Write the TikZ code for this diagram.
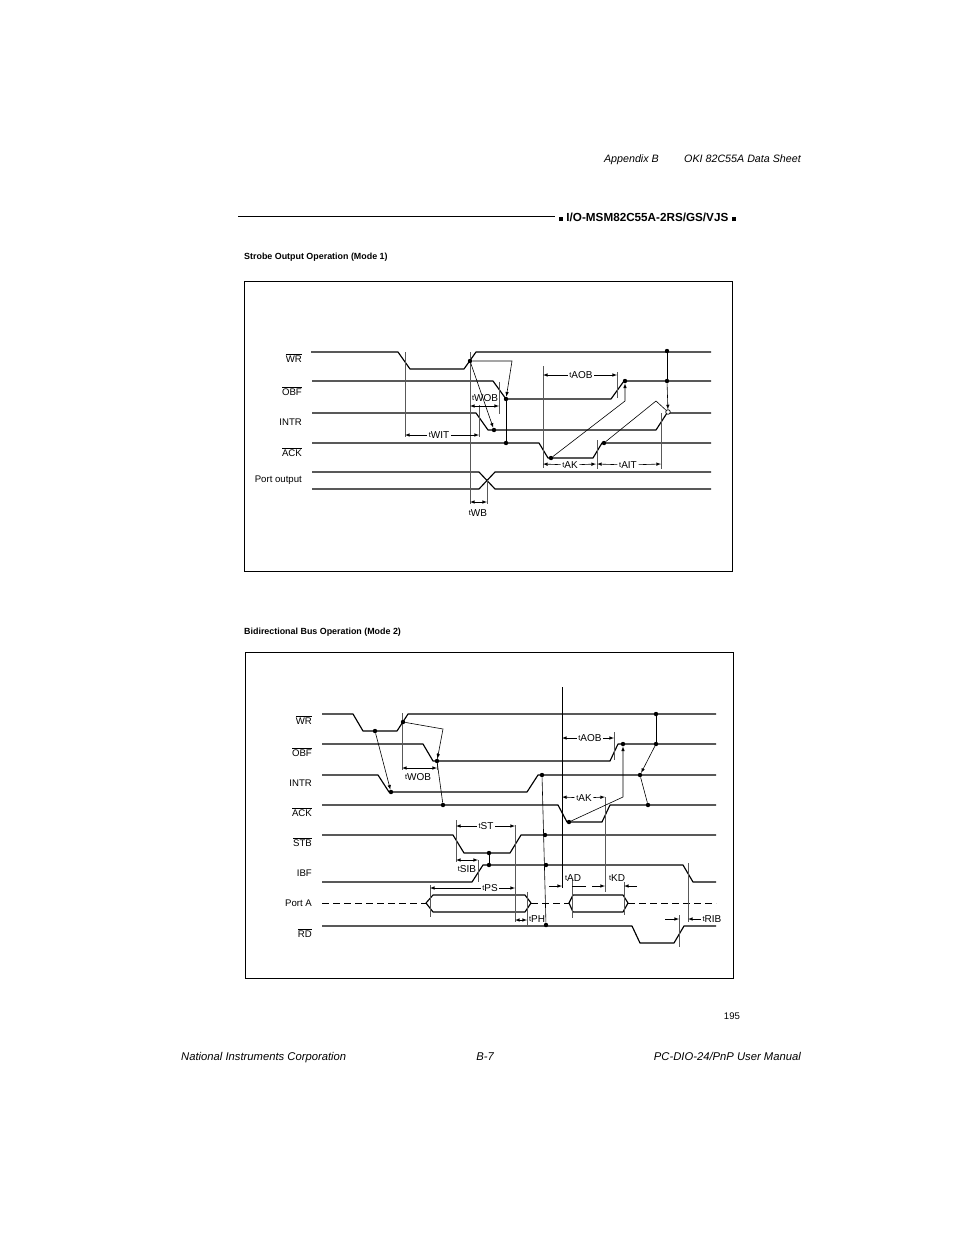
\documentclass[tikz,border=0pt]{standalone}
\usepackage{fontspec}
\setmainfont{Liberation Sans}
\usetikzlibrary{arrows, arrows.meta}
\tikzset{
    wave/.style={line width=1.15pt, line join=round},
    guide/.style={line width=0.55pt, gray!70!black},
    cause/.style={line width=0.6pt, -latex},
    tie/.style={line width=0.6pt},
    span/.style={line width=0.6pt, latex-latex},
    halfspan/.style={line width=0.6pt, -latex},
    dotmark/.style={circle, fill=black, inner sep=0pt, minimum size=4.4pt},
    dotopen/.style={circle, draw=black, fill=white, line width=0.7pt, inner sep=0pt, minimum size=4.6pt},
    sigtext/.style={font=\fontsize{9.6}{10}\selectfont, inner sep=0pt, anchor=east},
    timetext/.style={font=\fontsize{10}{10}\selectfont, inner sep=1.5pt},
    pagetext/.style={font=\fontsize{11.25}{12}\selectfont\itshape, inner sep=0pt},
    headtext/.style={font=\fontsize{10.7}{12}\selectfont\itshape, inner sep=0pt, anchor=base east},
    titletext/.style={font=\fontsize{8.9}{9}\selectfont\bfseries, inner sep=0pt, anchor=base west},
}
\newcommand{\tlab}[1]{\raisebox{1.2pt}{\fontsize{7.5}{8}\selectfont t}#1}
\newcommand{\barlab}[1]{$\overline{\mbox{#1}}$}
\begin{document}
\begin{tikzpicture}[x=1pt, y=-1pt]
    \fill[white] (0,0) rectangle (954,1235);
    \useasboundingbox (0,0) rectangle (954,1235);

    % page text
    \node[headtext] (appx) at (659,162) {Appendix B};
    \node[headtext] (sheet) at (801,162) {OKI 82C55A Data Sheet};
    \node[pagetext, anchor=base west] (maker) at (181,1060) {National Instruments Corporation};
    \node[pagetext, anchor=base] (pageno) at (485,1060) {B-7};
    \node[pagetext, anchor=base east] (manual) at (801,1060) {PC-DIO-24/PnP User Manual};
    \node[font=\fontsize{9.6}{10}\selectfont, inner sep=0pt] (orig) at (732,1016) {195};
    \draw[line width=0.9pt] (238,216) -- (555,216);
    \node[font=\fontsize{11.7}{12}\selectfont\bfseries, inner sep=0pt, anchor=west] (part) at (559,217) {\rule{4pt}{4pt} I/O-MSM82C55A-2RS/GS/VJS \rule{4pt}{4pt}};
    \node[titletext] (titleone) at (244,259) {Strobe Output Operation (Mode 1)};
    \node[titletext] (titletwo) at (244,634) {Bidirectional Bus Operation (Mode 2)};

    % Mode 1
    \begin{scope}[local bounding box=fig1]
        \draw[line width=0.9pt] (244,281) rectangle (732,571);
        \foreach \name/\y/\txt in {wra/358/\barlab{WR}, obfa/391/\barlab{OBF}, intra/422/INTR, acka/452/\barlab{ACK}, porta/480/Port output} {
            \node[sigtext] (\name) at (302,\y) {\txt};
        }
        \draw[wave] (311,352) -- (398,352) -- (410,369) -- (464,369) -- (476,352) -- (711,352);
        \draw[wave] (312,381) -- (493,381) -- (506,399) -- (611,399) -- (624,381) -- (711,381);
        \draw[wave] (312,413) -- (476,413) -- (488,430) -- (656,430) -- (667,413) -- (711,413);
        \draw[wave] (312,443) -- (539,443) -- (548,458) -- (593,458) -- (602,443) -- (711,443);
        \draw[wave] (312,472) -- (479,472) -- (495,489) -- (711,489);
        \draw[wave] (312,489) -- (479,489) -- (495,472) -- (711,472);

        \draw[guide] (405,352) -- (405,437);
        \draw[guide] (479,405) -- (479,437);
        \draw[guide] (470,352) -- (470,504);
        \draw[guide] (487,480) -- (487,504);
        \draw[guide] (499,382) -- (499,414);
        \draw[guide] (543,366) -- (543,468);
        \draw[guide] (617,372) -- (617,398);
        \draw[guide] (597,440) -- (597,469);
        \draw[guide] (661,413) -- (661,469);

        \foreach \name/\x/\y in {aa/470/361, ab/506/399, ac/506/443, ad/494/430, ae/551/458, af/625/381, ag/604/443, ah/667/351, ai/667/381} {
            \node[dotmark] (\name) at (\x,\y) {};
        }
        \node[dotopen] (aj) at (668,412) {};
        \coordinate (abend) at (512,361);
        \coordinate (ajend) at (656,401);
        \coordinate (afend) at (625,401);
        \draw[cause] (aa) -- (abend) -- (ab);
        \draw[cause] (aa) -- (ad);
        \draw[cause] (ae) -- (afend) -- (af);
        \draw[tie] (ag) -- (ajend) -- (aj);
        \draw[tie] (ab) -- (ac);
        \draw[tie] (ah) -- (ai);
        \draw[cause] (ai) -- (aj);

        \foreach \name/\x/\y/\txt in {wit/439/435/WIT, aob/581/375/AOB, ak/570/465/AK, ait/628/465/AIT, wob/485/398/WOB, wb/478/513/WB} {
            \node[timetext] (t\name) at (\x,\y) {\tlab{\txt}};
        }
        \foreach \name/\x/\y in {wl/405/435, wr/479/435, al/543/375, ar/617/375, kl/543/464, kr/596/464, il/597/464, ir/661/464, ol/470/406, or/499/406, bl/470/502, br/487/502} {
            \coordinate (\name) at (\x,\y);
        }
        \draw[halfspan] (twit) -- (wl);
        \draw[halfspan] (twit) -- (wr);
        \draw[halfspan] (taob) -- (al);
        \draw[halfspan] (taob) -- (ar);
        \draw[halfspan] (tak) -- (kl);
        \draw[halfspan] (tak) -- (kr);
        \draw[halfspan] (tait) -- (il);
        \draw[halfspan] (tait) -- (ir);
        \draw[span] (ol) -- (or);
        \draw[span] (bl) -- (br);
    \end{scope}

    % Mode 2
    \begin{scope}[local bounding box=fig2]
        \draw[line width=0.9pt] (245,652) rectangle (733,978);
        \foreach \name/\y/\txt in {wrb/720/\barlab{WR}, obfb/752/\barlab{OBF}, intrb/783/INTR, ackb/812/\barlab{ACK}, stbb/842/\barlab{STB}, ibfb/873/IBF, portb/903/Port A, rdb/933/\barlab{RD}} {
            \node[sigtext] (\name) at (312,\y) {\txt};
        }
        \draw[wave] (322,714) -- (353,714) -- (363,731) -- (397,731) -- (408,714) -- (716,714);
        \draw[wave] (322,744) -- (423,744) -- (433,761) -- (610,761) -- (618,744) -- (716,744);
        \draw[wave] (322,775) -- (378,775) -- (389,792) -- (527,792) -- (538,775) -- (716,775);
        \draw[wave] (322,805) -- (558,805) -- (567,822) -- (602,822) -- (610,805) -- (716,805);
        \draw[wave] (322,835) -- (453,835) -- (464,853) -- (510,853) -- (521,835) -- (716,835);
        \draw[wave] (322,882) -- (472,882) -- (483,865) -- (683,865) -- (693,882) -- (716,882);
        \draw[wave] (322,926) -- (632,926) -- (640,943) -- (674,943) -- (684,926) -- (716,926);
        \draw[wave] (426,903) -- (433,895) -- (525,895) -- (531,903) -- (525,912) -- (433,912) -- cycle;
        \draw[wave] (569,903) -- (573,895) -- (623,895) -- (628,903) -- (623,912) -- (573,912) -- cycle;
        \draw[line width=0.8pt, dash pattern=on 7pt off 4pt] (322,903) -- (426,903);
        \draw[line width=0.8pt, dash pattern=on 7pt off 4pt] (531,903) -- (569,903);
        \draw[line width=0.8pt, dash pattern=on 7pt off 4pt] (628,903) -- (716,903);

        \draw[guide] (402,713) -- (402,770);
        \draw[guide] (437,753) -- (437,770);
        \draw[guide] (456,820) -- (456,862);
        \draw[guide] (515,825) -- (515,922);
        \draw[guide] (478,860) -- (478,882);
        \draw[guide] (430,885) -- (430,917);
        \draw[guide] (527,892) -- (527,925);
        \draw[tie] (562,687) -- (562,888);
        \draw[guide] (572,880) -- (572,918);
        \draw[guide] (605,797) -- (605,892);
        \draw[guide] (624,882) -- (624,915);
        \draw[guide] (614,732) -- (614,760);
        \draw[guide] (679,915) -- (679,947);
        \draw[guide] (688,863) -- (688,922);

        \foreach \name/\x/\y in {ba/375/731, bb/391/792, bc/403/722, bd/437/761, be/443/805, bf/489/853, bg/489/865, bh/542/775, bi/545/835, bj/546/865, bk/546/925, bl/569/822, bm/623/744, bn/656/714, bo/656/744, bp/640/775, bq/648/805} {
            \node[dotmark] (\name) at (\x,\y) {};
        }
        \coordinate (bdend) at (443,729);
        \coordinate (bmend) at (623,797);
        \draw[cause] (ba) -- (bb);
        \draw[cause] (bc) -- (bdend) -- (bd);
        \draw[tie] (bd) -- (be);
        \draw[tie] (bf) -- (bg);
        \draw[tie] (bh) -- (bk);
        \draw[cause] (bl) -- (bmend) -- (bm);
        \draw[tie] (bn) -- (bo);
        \draw[cause] (bo) -- (bp);
        \draw[tie] (bp) -- (bq);

        \foreach \name/\x/\y/\txt in {wobb/418/777/WOB, st/486/826/ST, sib/467/869/SIB, ps/490/888/PS, ph/537/919/PH, aobb/590/738/AOB, akb/584/798/AK, ad/573/878/AD, kd/617/878/KD, rib/712/919/RIB} {
            \node[timetext] (t\name) at (\x,\y) {\tlab{\txt}};
        }
        \foreach \name/\x/\y in {cl/402/768, cr/437/768, sl/456/826, sr/515/826, il/456/860, ir/478/860, pl/430/888, pr/515/888, hl/515/920, hr/527/920, ql/562/738, qr/614/738, ml/562/797, mr/605/797, dstart/549/886, dend/562/886, estart/586/886, eend/572/886, fstart/592/886, fend/605/886, gstart/637/886, gend/624/886, rstart/665/919, rend/679/919} {
            \coordinate (\name) at (\x,\y);
        }
        \draw[span] (cl) -- (cr);
        \draw[halfspan] (tst) -- (sl);
        \draw[halfspan] (tst) -- (sr);
        \draw[span] (il) -- (ir);
        \draw[halfspan] (tps) -- (pl);
        \draw[halfspan] (tps) -- (pr);
        \draw[span] (hl) -- (hr);
        \draw[halfspan] (taobb) -- (ql);
        \draw[halfspan] (taobb) -- (qr);
        \draw[halfspan] (takb) -- (ml);
        \draw[halfspan] (takb) -- (mr);
        \draw[halfspan] (dstart) -- (dend);
        \draw[tie] (estart) -- (eend);
        \draw[halfspan] (fstart) -- (fend);
        \draw[halfspan] (gstart) -- (gend);
        \draw[halfspan] (rstart) -- (rend);
        \coordinate (riba) at (688,919);
        \draw[halfspan] (trib) -- (riba);
    \end{scope}
\end{tikzpicture}
\end{document}
